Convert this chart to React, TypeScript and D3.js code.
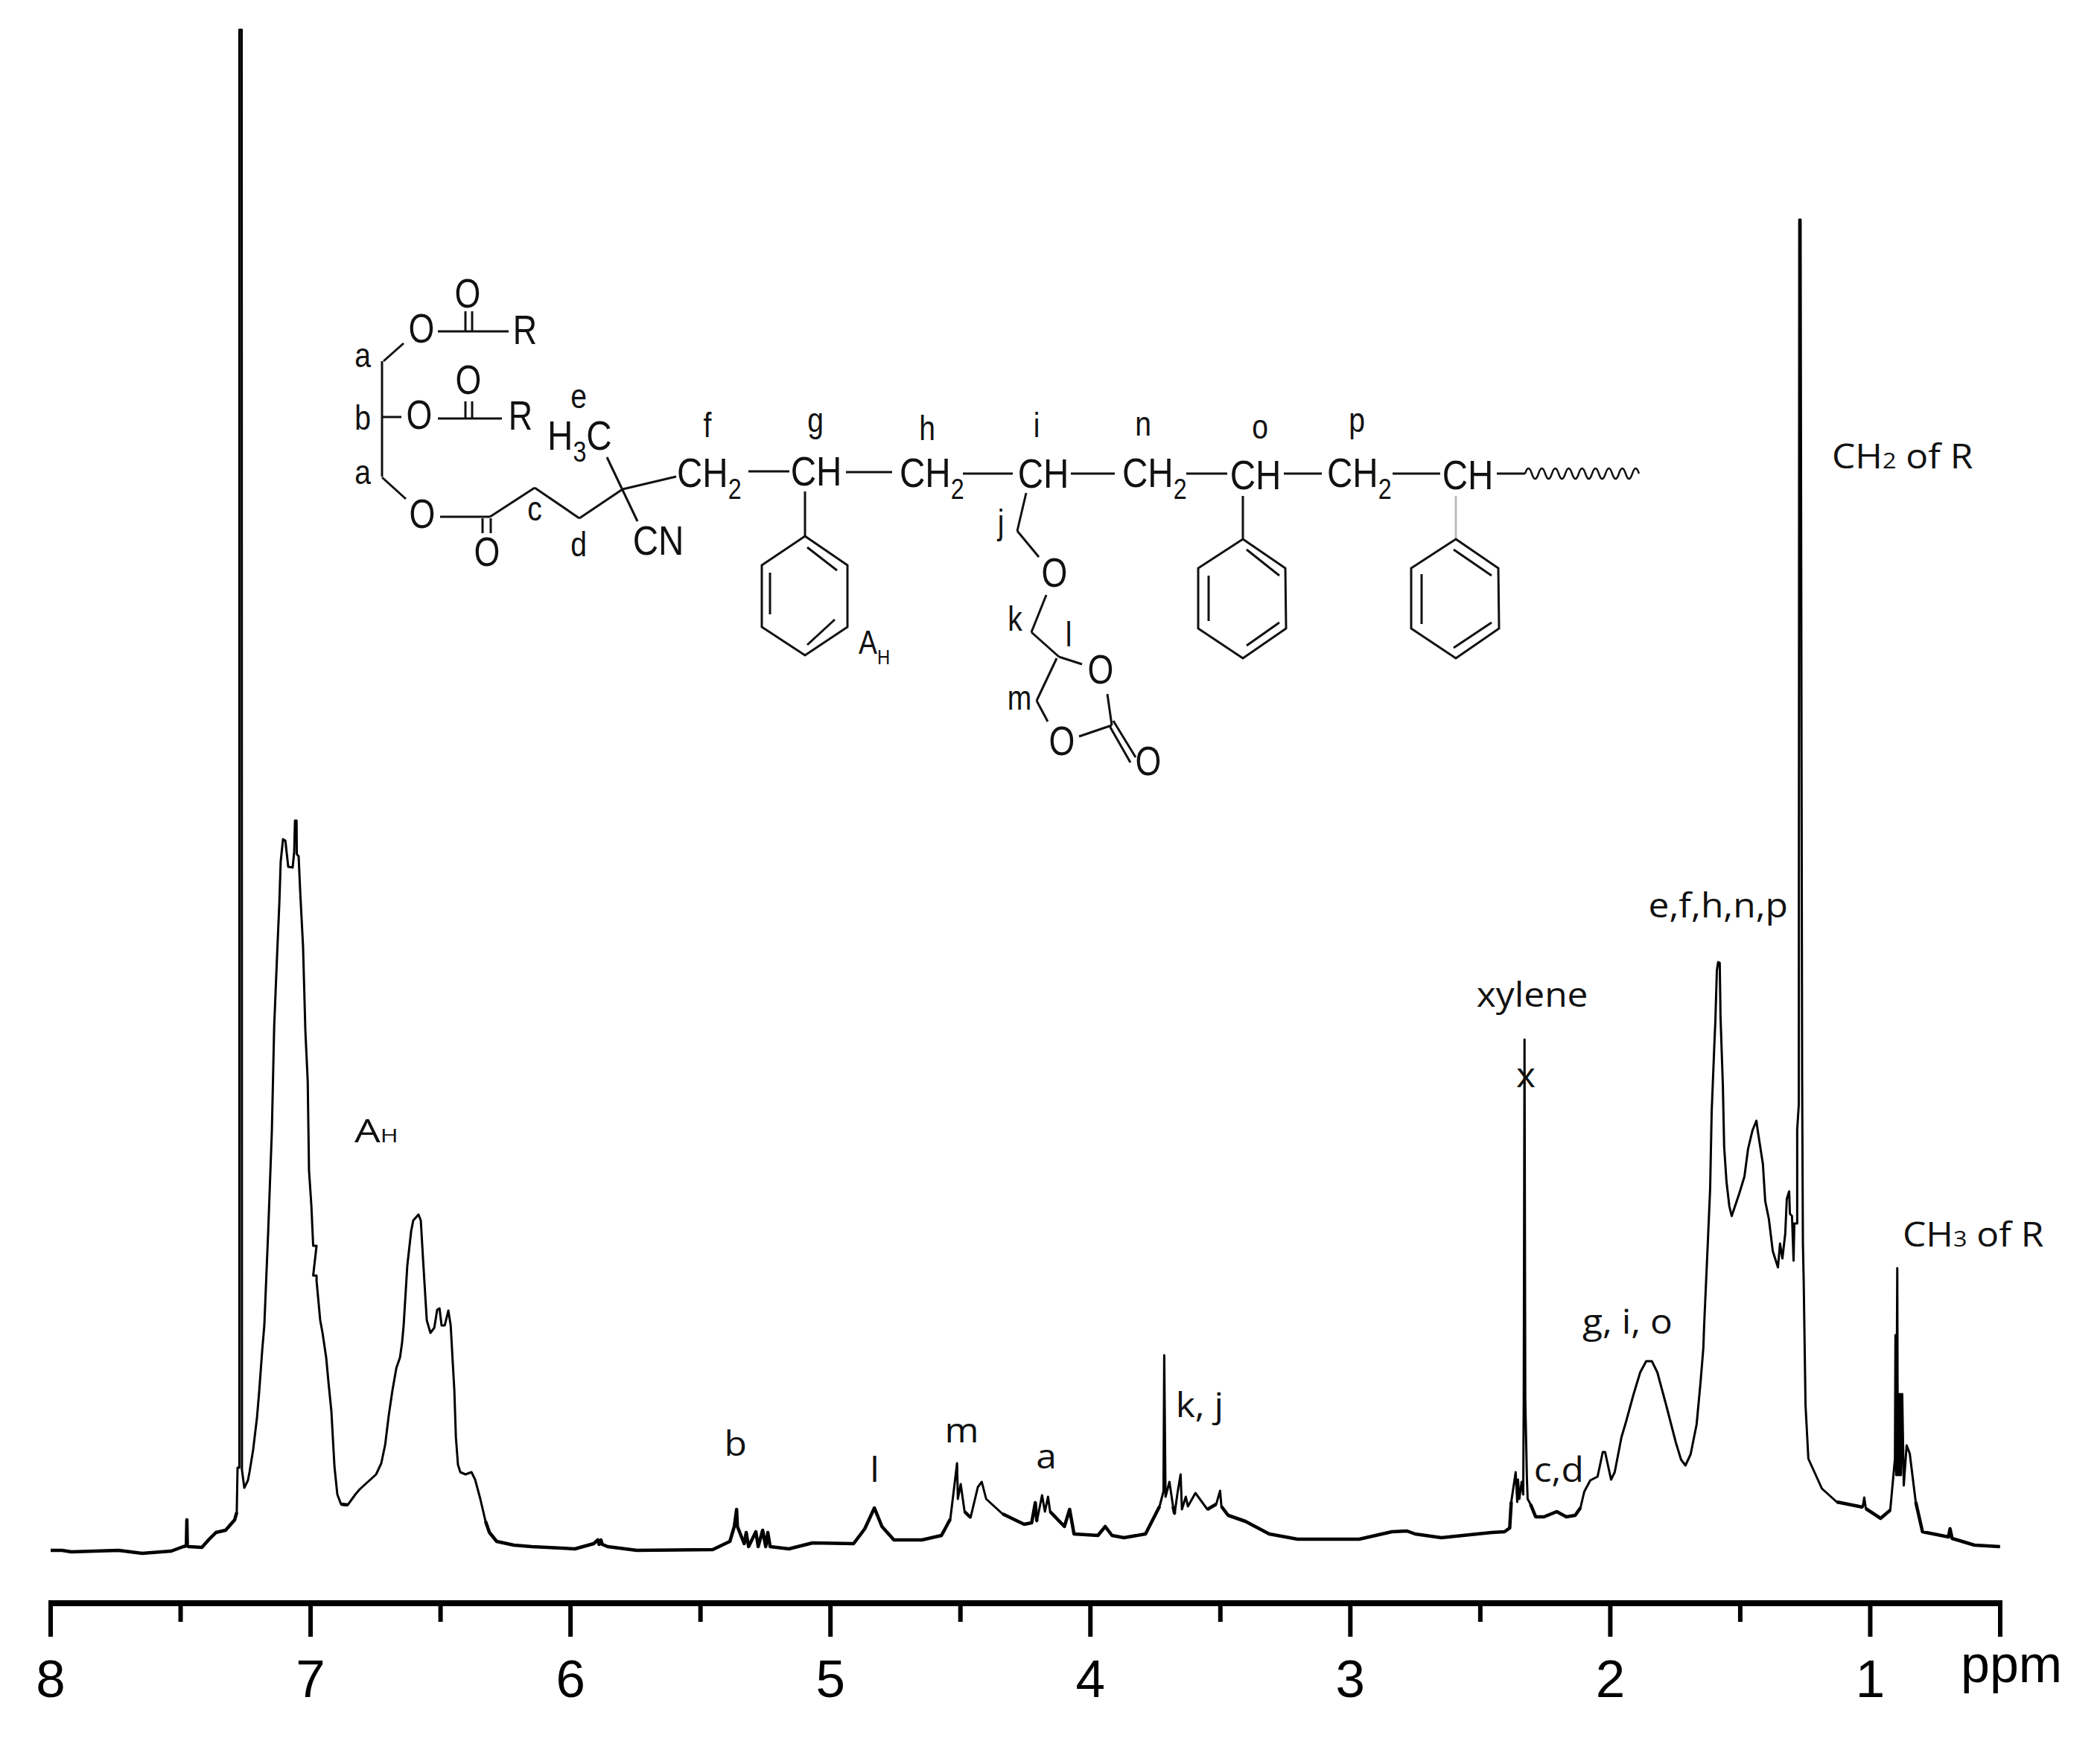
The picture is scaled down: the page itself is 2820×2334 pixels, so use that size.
import React from "react";
import * as d3 from "d3";

const W = 2820;
const H = 2334;

// ---- spectrum values: chemical shift (ppm) and signal height (a.u.) ----
const aromaticPpm = [
  8.0, 7.957, 7.92, 7.739, 7.648, 7.536, 7.49, 7.478, 7.476, 7.474, 7.47, 7.418, 7.39, 7.364, 7.327, 7.292, 7.284, 7.281, 7.274, 7.274, 7.265, 7.264,
  7.255, 7.241, 7.235, 7.221, 7.206, 7.198, 7.186, 7.178, 7.163, 7.149, 7.14, 7.129, 7.12, 7.115, 7.106, 7.097, 7.086, 7.069, 7.063, 7.06, 7.054, 7.053, 7.046, 7.04,
  7.029, 7.02, 7.011, 7.006, 6.997, 6.99, 6.977, 6.99, 6.977, 6.977, 6.963, 6.954, 6.94, 6.931, 6.92, 6.914, 6.908, 6.897, 6.883, 6.857, 6.828, 6.811, 6.748, 6.728, 6.713,
  6.699, 6.685, 6.67, 6.656, 6.648, 6.642, 6.628, 6.613, 6.605, 6.585, 6.576, 6.567, 6.553, 6.539, 6.524, 6.513, 6.504, 6.496, 6.484, 6.47, 6.461, 6.453, 6.447, 6.441, 6.433, 6.424, 6.404,
  6.381, 6.367, 6.347, 6.327, 6.312, 6.284, 6.218, 6.149, 5.983, 5.911, 5.895, 5.89, 5.883, 5.878, 5.857, 5.745, 5.453,
];
const aromaticHeight = [
  2, 2, 0, 2, -2, 1, 7, 8, 43, 8, 7, 6, 17, 26, 29, 43, 53, 113, 113, 2044, 2044, 110,
  86, 96, 107, 137, 181, 214, 271, 304, 431, 565, 706, 800, 873, 927, 957, 955, 920, 919, 940, 982, 982, 937, 934, 887,
  813, 699, 632, 512, 465, 411, 411, 371, 371, 364, 311, 294, 261, 227, 189, 151, 114, 77, 64, 63, 77, 84, 104, 119, 144,
  184, 217, 247, 261, 281, 304, 384, 431, 445, 453, 445, 391, 311, 294, 301, 325, 327, 304, 304, 324, 304, 254, 217, 154, 117, 107, 104,
  107, 97, 71, 41, 26, 14, 9, 7, 4, 11, 16, 10, 16, 10, 7, 2, 3,
];
const midPpm = [
  5.387, 5.37, 5.361, 5.358, 5.332, 5.324, 5.315, 5.287, 5.278, 5.261, 5.249, 5.241, 5.232, 5.16, 5.069, 4.911, 4.868, 4.831, 4.802, 4.756, 4.648, 4.573,
  4.539, 4.524, 4.513, 4.51, 4.499, 4.484, 4.461, 4.433, 4.418, 4.401, 4.338, 4.255, 4.226, 4.212, 4.206, 4.186, 4.175, 4.163, 4.155, 4.1, 4.08, 4.063,
  3.971, 3.943, 3.917, 3.871, 3.788, 3.734, 3.719, 3.716, 3.711, 3.696, 3.682, 3.676, 3.665, 3.653, 3.648, 3.633, 3.625, 3.596, 3.55, 3.516, 3.501, 3.496,
  3.47, 3.404, 3.312, 3.203, 2.966, 2.84, 2.782, 2.751, 2.65, 2.456,
];
const midHeight = [
  14, 34, 57, 34, 11, 26, 7, 27, 7, 29, 7, 26, 7, 4, 12, 11, 31, 59, 34, 16, 16, 22,
  44, 87, 119, 71, 91, 54, 46, 87, 94, 71, 51, 37, 39, 66, 41, 76, 54, 74, 54, 34, 57, 24,
  22, 34, 22, 19, 24, 61, 81, 264, 74, 94, 61, 51, 79, 104, 57, 74, 61, 79, 57, 64, 82, 61,
  49, 41, 24, 17, 17, 27, 28, 24, 19, 26,
];
const aliphaticPpm = [
  2.407, 2.387, 2.381, 2.364, 2.358, 2.355, 2.35, 2.341, 2.335, 2.333, 2.33, 2.327, 2.321, 2.318, 2.307, 2.287, 2.255, 2.206, 2.169, 2.135, 2.115, 2.1,
  2.077, 2.049, 2.029, 2.02, 1.997, 1.983, 1.957, 1.94, 1.911, 1.885, 1.862, 1.84, 1.819, 1.785, 1.748, 1.728, 1.711, 1.691, 1.668, 1.653, 1.642, 1.639,
  1.625, 1.616, 1.61, 1.599, 1.596, 1.59, 1.585, 1.579, 1.576, 1.567, 1.562, 1.553, 1.542, 1.533, 1.504, 1.484, 1.47, 1.453, 1.438, 1.433, 1.413, 1.404,
  1.39, 1.375, 1.355, 1.347, 1.338, 1.327, 1.321, 1.312, 1.309, 1.301, 1.295, 1.292, 1.281, 1.281, 1.275, 1.273, 1.268, 1.262, 1.259, 1.256, 1.249, 1.238,
  1.186, 1.129, 1.029, 1.023, 1.017, 0.96, 0.923, 0.905, 0.903, 0.9, 0.896, 0.894, 0.891, 0.888, 0.885, 0.882,
  0.877, 0.871, 0.86, 0.848, 0.825, 0.799, 0.699, 0.693, 0.685, 0.599, 0.501,
];
const aliphaticHeight = [
  27, 32, 67, 107, 67, 97, 71, 94, 77, 204, 688, 204, 101, 71, 64, 47, 47, 54, 47, 49, 59, 81,
  96, 101, 134, 134, 97, 107, 154, 174, 211, 241, 256, 256, 241, 197, 147, 124, 116, 131, 171, 227, 274, 304,
  414, 487, 591, 687, 711, 781, 792, 791, 719, 627, 544, 497, 464, 451, 481, 504, 541, 566, 579, 566, 521, 471,
  447, 404, 382, 414, 394, 427, 474, 484, 454, 451, 391, 441, 441, 567, 600, 1789, 1789, 634, 414, 364, 197, 125,
  85, 67, 60, 73, 58, 45, 56, 125, 291, 103, 381, 103, 212, 103, 212, 103,
  212, 89, 143, 132, 67, 27, 20, 31, 18, 9, 7,
];

const majorTicks = [8, 7, 6, 5, 4, 3, 2, 1];
const minorTicks = [7.5, 6.5, 5.5, 4.5, 3.5, 2.5, 1.5, 0.5];

// ---- peak assignment labels: name, chemical shift, height above the baseline ----
const peakLabels: [string, number, number][] = [
  ["xylene", 2.3, 732],
  ["x", 2.325, 624],
  ["e,f,h,n,p", 1.585, 852],
  ["g, i, o", 1.934, 293],
  ["c,d", 2.198, 94],
  ["b", 5.365, 129],
  ["l", 4.83, 94],
  ["m", 4.495, 147],
  ["a", 4.17, 112],
  ["k, j", 3.58, 181],
];

// ---- chemical structure drawn over the plot (scheme, not data) ----
const bonds = [
  [515, 485, 542, 461], [588, 445, 683, 445], [625, 418, 625, 445], [634, 418, 634, 445],
  [513, 485, 513, 640], [513, 560, 539, 560], [588, 562, 674, 562], [625, 539, 625, 562], [634, 539, 634, 562],
  [513, 641, 545, 670], [591, 694, 658, 694], [648, 696, 648, 716], [659, 696, 659, 716],
  [658, 694, 718, 655], [718, 655, 778, 696], [778, 696, 836, 657], [836, 657, 908, 640], [815, 614, 856, 700],
  [1005, 633, 1060, 633], [1136, 634, 1198, 634], [1293, 636, 1360, 636], [1081, 660, 1081, 720],
  [1438, 636, 1497, 636], [1593, 636, 1648, 636], [1724, 636, 1775, 636], [1870, 636, 1934, 636], [2010, 636, 2048, 636],
  [1669, 666, 1669, 723],
  [1378, 662, 1366, 713], [1366, 713, 1395, 748], [1405, 799, 1385, 849], [1385, 849, 1422, 882], [1422, 882, 1453, 892],
  [1419, 884, 1392, 941], [1392, 941, 1407, 969], [1449, 989, 1493, 974], [1487, 932, 1493, 974],
  [1495, 968, 1525, 1017], [1490, 975, 1518, 1024],
];
const rings = [
  { pts: [[1081, 720], [1138, 759], [1138, 842], [1081, 880], [1023, 842], [1023, 759]], inner: [[1084, 735, 1124, 766], [1034, 769, 1034, 825], [1084, 866, 1121, 832]] },
  { pts: [[1669, 724], [1726, 763], [1727, 844], [1669, 884], [1609, 844], [1609, 763]], inner: [[1674, 738, 1718, 773], [1623, 773, 1623, 834], [1674, 867, 1718, 836]] },
  { pts: [[1955, 724], [2012, 763], [2013, 844], [1955, 884], [1895, 844], [1895, 763]], inner: [[1952, 738, 2003, 773], [1909, 771, 1909, 838], [1952, 870, 2003, 836]] },
];
const atoms: [string, number, number][] = [
  ["O", 566, 460], ["O", 628, 413], ["R", 705, 462], ["O", 563, 576], ["O", 629, 529], ["R", 699, 577],
  ["O", 567, 709], ["O", 654, 760], ["CN", 884, 745], ["CH", 1096, 652], ["CH", 1401, 655], ["CH", 1686, 657], ["CH", 1971, 657],
  ["O", 1416, 788], ["O", 1478, 918], ["O", 1426, 1014], ["O", 1542, 1041],
];
const ch2Groups = [909, 1208, 1507, 1782];
const atomTags: [string, number, number][] = [
  ["a", 487, 493], ["b", 487, 577], ["a", 487, 650], ["c", 718, 699], ["d", 777, 747], ["e", 777, 548],
  ["f", 950, 587], ["g", 1095, 580], ["h", 1245, 591], ["i", 1392, 587], ["n", 1535, 585], ["o", 1692, 589], ["p", 1822, 580],
  ["j", 1344, 717], ["k", 1363, 847], ["l", 1435, 868], ["m", 1369, 953],
];

const STRUCT_FONT = "'Liberation Sans', Arial, sans-serif";
const LABEL_FONT = "'Open Sans', sans-serif";

function StructText({ x, y, size, children, anchor = "middle", sx = 0.85 }: any) {
  return (
    <text
      transform={`translate(${x},${y}) scale(${sx},1)`}
      textAnchor={anchor}
      fontFamily={STRUCT_FONT}
      fontSize={size}
      fill="#111"
    >
      {children}
    </text>
  );
}

function LabelText({ x, y, children, anchor = "start", sx = 1.08, size = 46 }: any) {
  return (
    <text
      transform={`translate(${x},${y}) scale(${sx},1)`}
      textAnchor={anchor}
      fontFamily={LABEL_FONT}
      fontSize={size}
      fill="#111"
    >
      {children}
    </text>
  );
}

export default function App() {
  const x = d3.scaleLinear().domain([8, 0.5]).range([68, 2686]);
  const y = d3.scaleLinear().domain([0, 2044]).range([2084, 40]);
  const ppm = [...aromaticPpm, ...midPpm, ...aliphaticPpm];
  const height = [...aromaticHeight, ...midHeight, ...aliphaticHeight];
  const points = ppm.map((p, i) => [p, height[i]] as [number, number]);
  const line = d3
    .line<[number, number]>()
    .x((d) => x(d[0]))
    .y((d) => y(d[1]));
  // the low, noisy stretch of the trace reads heavier than the steep flanks
  const lowLine = d3
    .line<[number, number]>()
    .defined((d) => d[1] < 70)
    .x((d) => x(d[0]))
    .y((d) => y(d[1]));

  const axisY = 2153;

  // wavy polymer-chain end
  let wave = "M2048 636";
  for (let i = 0, px = 2048; px < 2194; i++, px += 9) {
    wave += ` Q${px + 4.5} ${i % 2 ? 650 : 622} ${px + 9} 636`;
  }

  return (
    <svg
      width={W}
      height={H}
      viewBox={`0 0 ${W} ${H}`}
      style={{ position: "absolute", left: 0, top: 0, display: "block", background: "#fff" }}
    >
      {/* spectrum */}
      <path d={line(points) || ""} fill="none" stroke="#000" strokeWidth={3} strokeLinejoin="round" />
      <path d={lowLine(points) || ""} fill="none" stroke="#000" strokeWidth={4.5} strokeLinejoin="round" />

      {/* axis */}
      <line x1={x(8) - 3} x2={x(0.5) + 3} y1={axisY} y2={axisY} stroke="#000" strokeWidth={8} />
      {majorTicks.map((t) => (
        <line key={t} x1={x(t)} x2={x(t)} y1={axisY} y2={2198} stroke="#000" strokeWidth={6} />
      ))}
      {minorTicks.map((t) => (
        <line key={t} x1={x(t)} x2={x(t)} y1={axisY} y2={t === 0.5 ? 2198 : 2178} stroke="#000" strokeWidth={6} />
      ))}
      {majorTicks.map((t) => (
        <text key={t} x={x(t)} y={2279} textAnchor="middle" fontFamily={STRUCT_FONT} fontSize={71} fill="#000">
          {t}
        </text>
      ))}
      <text x={2633} y={2259} fontFamily={STRUCT_FONT} fontSize={70} fill="#000">
        ppm
      </text>

      {/* peak labels */}
      {peakLabels.map(([s, p, h], i) => (
        <LabelText key={i} x={x(p)} y={y(h)} anchor="middle">
          {s}
        </LabelText>
      ))}
      <LabelText x={2460} y={629}>
        CH<tspan fontSize={30}>2</tspan> of R
      </LabelText>
      <LabelText x={2555} y={1674}>
        CH<tspan fontSize={30}>3</tspan> of R
      </LabelText>
      <LabelText x={476} y={1534} size={44} sx={1.25}>
        A<tspan fontSize={26}>H</tspan>
      </LabelText>

      {/* structure */}
      <g stroke="#111" strokeWidth={3} fill="none">
        {bonds.map((b, i) => (
          <line key={i} x1={b[0]} y1={b[1]} x2={b[2]} y2={b[3]} />
        ))}
        <line x1={1955} y1={666} x2={1955} y2={723} stroke="#bbb" />
        {rings.map((r, i) => (
          <g key={i}>
            <polygon points={r.pts.map((p) => p.join(",")).join(" ")} />
            {r.inner.map((b, j) => (
              <line key={j} x1={b[0]} y1={b[1]} x2={b[2]} y2={b[3]} />
            ))}
          </g>
        ))}
        <path d={wave} strokeWidth={2.5} />
      </g>
      {atoms.map(([s, ax, ay], i) => (
        <StructText key={i} x={ax} y={ay} size={56} sx={s === "O" || s === "R" ? 0.8 : 0.85}>
          {s}
        </StructText>
      ))}
      {ch2Groups.map((cx, i) => (
        <StructText key={i} x={cx} y={654} size={56} anchor="start">
          CH<tspan fontSize={38} dy={16}>2</tspan>
        </StructText>
      ))}
      <StructText x={735} y={604} size={56} anchor="start">
        H<tspan fontSize={38} dy={16}>3</tspan>
        <tspan dy={-16}>C</tspan>
      </StructText>
      <StructText x={1153} y={878} size={44} anchor="start">
        A<tspan fontSize={28} dy={14}>H</tspan>
      </StructText>
      {atomTags.map(([s, ax, ay], i) => (
        <StructText key={i} x={ax} y={ay} size={46}>
          {s}
        </StructText>
      ))}
    </svg>
  );
}
